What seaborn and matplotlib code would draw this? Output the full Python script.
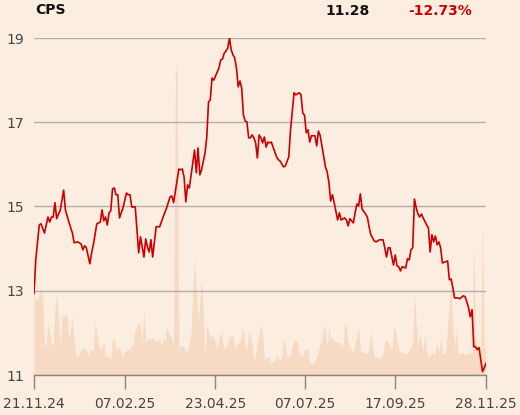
import matplotlib
matplotlib.use("Agg")
import matplotlib.pyplot as plt
import seaborn as sns

# closing price by trading day
price_day = [0,1,3,4,6,8,9,10,11,12,13,14,15,17,18,20,22,23,25,27,28,29,30,32,33,34,36,37,38,39,
             40,41,42,43,44,45,46,47,48,49,50,51,53,54,55,56,58,60,61,63,64,65,66,67,68,70,72,74,76,78,
             79,80,82,83,84,85,86,87,88,89,92,93,94,95,96,98,99,100,101,102,103,105,106,107,108,109,110,111,112,113,
             114,115,116,117,118,119,120,121,122,123,124,125,126,127,128,129,130,131,132,133,134,135,136,137,139,140,141,143,144,146,
             147,149,150,152,153,154,155,156,157,158,159,161,162,163,164,166,167,168,169,170,171,172,174,175,176,178,179,180,181,183,
             184,185,186,187,188,190,191,192,193,195,196,198,200,201,202,203,204,206,207,208,209,210,211,213,214,215,216,217,218,219,
             220,221,222,223,225,226,227,228,229,230,231,232,233,234,236,237,238,239,240,241,243,244,246,247,248,249,250,251,252,253,
             254,255,257,258,259]
price = [12.93,13.73,14.56,14.59,14.37,14.75,14.63,14.75,14.75,15.09,14.71,14.82,14.90,15.39,14.92,14.63,14.37,14.14,14.16,14.11,
         13.97,14.07,14.02,13.64,13.90,14.09,14.59,14.61,14.63,14.92,14.66,14.75,14.56,14.85,14.90,15.42,15.44,15.28,15.28,14.73,
         14.85,14.97,15.32,15.28,15.28,14.99,14.99,13.90,14.28,13.80,14.23,14.04,13.92,14.21,13.80,14.52,14.52,14.75,14.97,15.23,
         15.25,15.09,15.63,15.89,15.87,15.89,15.70,15.11,15.51,15.44,16.34,15.80,16.39,15.75,15.87,16.27,16.65,17.48,17.53,18.05,
         18.00,18.19,18.29,18.48,18.50,18.64,18.69,18.76,19.00,18.72,18.60,18.53,18.29,17.84,17.98,17.81,17.17,17.03,17.01,16.63,
         16.63,16.70,16.63,16.51,16.15,16.70,16.63,16.51,16.65,16.41,16.53,16.51,16.53,16.41,16.18,16.11,16.08,15.94,15.96,16.18,
         16.82,17.70,17.65,17.70,17.65,17.22,17.17,16.75,16.82,16.53,16.68,16.68,16.44,16.79,16.68,16.18,15.94,15.82,15.56,15.13,
         15.28,15.09,14.68,14.85,14.68,14.73,14.68,14.54,14.71,14.61,14.85,15.06,15.01,15.30,14.94,14.82,14.75,14.52,14.33,14.18,
         14.16,14.21,14.21,14.02,13.80,14.02,14.02,13.61,13.85,13.59,13.57,13.47,13.57,13.54,13.76,13.73,13.97,14.02,15.18,14.97,
         14.82,14.75,14.82,14.73,14.56,14.49,13.92,14.33,14.16,14.30,14.09,14.16,14.02,13.66,13.69,13.71,13.26,13.28,13.07,12.83,
         12.83,12.81,12.88,12.86,12.74,12.59,12.38,12.55,11.67,11.67,11.60,11.65,11.08,11.17,11.28]

# traded volume (relative units)
vol_day = [0,1,2,3,4,5,6,7,8,9,10,11,12,13,14,15,16,18,19,20,22,23,24,25,27,28,30,31,32,34,
           35,36,37,38,40,41,42,44,45,46,47,49,50,51,52,53,55,57,58,60,61,62,63,64,65,67,68,69,71,72,
           73,74,75,76,77,79,80,81,82,83,85,86,87,88,90,91,92,93,94,95,96,97,98,99,101,102,104,105,107,108,
           109,111,112,114,115,116,118,119,120,121,122,123,124,125,126,127,129,130,131,132,134,135,136,138,139,141,142,143,145,147,
           148,149,151,152,154,155,157,158,160,162,164,165,166,167,168,169,170,171,173,174,175,177,178,179,180,181,183,184,186,187,
           188,190,191,192,193,194,195,197,198,200,201,202,204,205,206,207,209,210,212,213,214,216,217,218,219,220,221,223,224,225,
           226,228,229,231,232,233,234,235,236,238,239,240,241,242,243,244,245,247,248,250,251,252,253,254,256,257,258,259]
volume = [82,77,75,82,89,75,27,32,52,43,32,28,67,82,58,27,57,61,60,35,60,32,20,19,25,28,25,19,25,25,
          54,43,28,25,32,18,19,16,35,37,25,28,22,18,24,24,27,32,45,53,48,32,67,32,37,36,37,35,33,38,
          28,39,33,48,43,37,28,300,313,27,30,28,22,25,42,85,115,85,50,75,97,58,18,51,37,40,33,25,44,35,
          25,32,38,40,28,28,35,42,47,28,25,42,40,30,12,22,42,51,42,15,18,16,12,15,20,15,17,38,18,20,
          28,35,33,22,18,25,26,12,12,18,32,35,51,43,28,50,35,38,32,33,33,28,52,50,32,28,22,32,48,25,
          23,22,22,28,42,28,18,18,15,22,33,35,28,25,46,47,25,23,22,21,22,27,35,83,52,28,42,23,42,22,
          18,22,20,32,22,37,22,21,23,75,92,48,28,45,22,21,23,20,21,22,22,135,42,25,28,153,28,25]

tick_days = [0, 52, 104, 155, 207, 259]
tick_labels = ["21.11.24", "07.02.25", "23.04.25", "07.07.25", "17.09.25", "28.11.25"]
y_ticks = [11, 13, 15, 17, 19]

bg = "#fcede1"
sns.set_theme(style="white", rc={"figure.facecolor": bg, "axes.facecolor": bg})
plt.rcParams["font.family"] = ["DejaVu Sans"]

fig = plt.figure(figsize=(5.2, 4.15), dpi=100)
ax = fig.add_axes([34 / 520, 40 / 415, 452 / 520, 337 / 415])

# volume on a hidden twin axis, behind the price line
ax2 = ax.twinx()
ax2.fill_between(vol_day, 0, volume, color="#f7dac4", linewidth=0)
ax2.set_ylim(0, 337)
ax2.axis("off")
ax.set_zorder(ax2.get_zorder() + 1)
ax.patch.set_visible(False)
fig.patch.set_facecolor(bg)
ax2.patch.set_facecolor(bg)

sns.lineplot(x=price_day, y=price, ax=ax, color="#cc0000", linewidth=1.2)

ax.set_xlim(0, 259)
ax.set_ylim(11, 19)
ax.set_yticks(y_ticks)
ax.set_yticklabels([str(t) for t in y_ticks])
ax.set_xticks(tick_days)
ax.set_xticklabels(tick_labels)
ax.grid(axis="y", color="#b3aea9", linewidth=1)
ax.grid(axis="x", visible=False)
for s in ["left", "right", "top"]:
    ax.spines[s].set_visible(False)
ax.spines["bottom"].set_color("#8a8684")
ax.spines["bottom"].set_linewidth(1)
ax.tick_params(axis="y", length=0, pad=7, labelsize=10, labelcolor="#444444")
ax.tick_params(axis="x", direction="out", length=10, width=1, color="#8a8684",
               pad=6, labelsize=10, labelcolor="#444444", bottom=True)
ax.set_xlabel("")
ax.set_ylabel("")

fig.text(35 / 520, 1 - 10 / 415, "CPS", fontsize=10, fontweight="bold", color="#111111", va="center")
fig.text(370 / 520, 1 - 11 / 415, "11.28", fontsize=10, fontweight="bold", color="#111111",
         va="center", ha="right")
fig.text(472 / 520, 1 - 11 / 415, "-12.73%", fontsize=10, fontweight="bold", color="#cc0000",
         va="center", ha="right")

fig.savefig("out.png", dpi=100, facecolor=bg)
